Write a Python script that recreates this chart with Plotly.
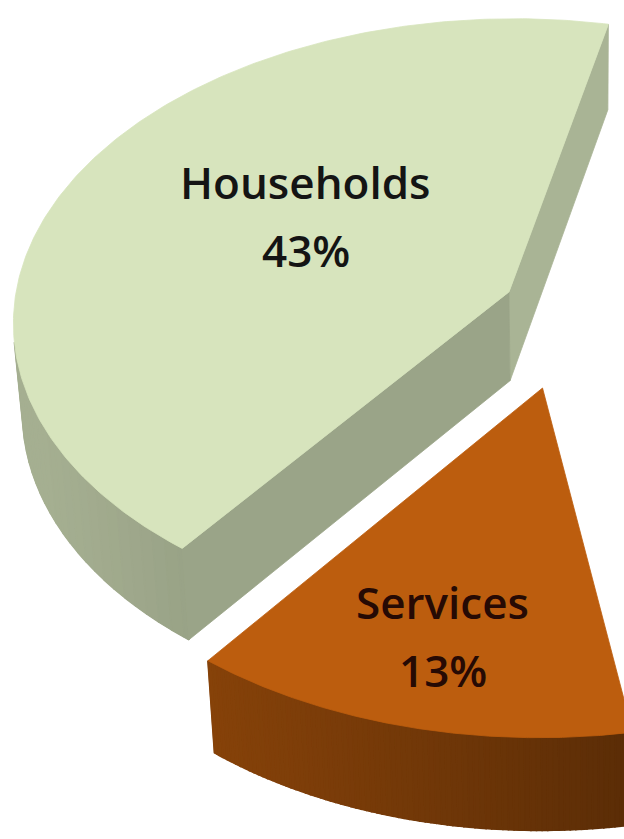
import numpy as np
import plotly.graph_objects as go

# Sector shares of total consumption (percent)
categories = ["Households", "Services"]
shares = [43, 13]
top_colors = ["#d7e4bd", "#bc5d0e"]
text_colors = ["#141414", "#260a04"]

# Per-slice styling
explode = [0.145, 0.26]          # radial pull-out, in pie radii
label_radius = [0.5, 0.75]       # label anchor along the slice
label_turn = [-7.0, 0.0]         # angular nudge of the label anchor (deg)

# Page and camera
W, H = 624, 839
CX, CY = 574.0, 310.0
FOCAL = 4233.0
DIST = 8.54
TILT = np.radians(37.5)
THICK = 0.23
START = 78.0                     # angle of the first slice edge (deg, CCW)
S, C = np.sin(TILT), np.cos(TILT)
CAM = np.array([0.0, -DIST * C, DIST * S])


def project(X, Y, Z):
    X, Y, Z = np.asarray(X, float), np.asarray(Y, float), np.asarray(Z, float)
    yc = Y * S + Z * C
    d = DIST + Y * C - Z * S
    return CX + FOCAL * X / d, CY - FOCAL * yc / d


def hexrgb(h):
    h = h.lstrip("#")
    return np.array([int(h[i:i + 2], 16) for i in (0, 2, 4)], float)


def shade(h, k):
    r, g, b = np.clip(hexrgb(h) * k, 0, 255).astype(int)
    return f"rgb({r},{g},{b})"


def wall_light(theta_deg):
    return 0.42 + 0.35 * np.cos(np.radians(theta_deg - 200.0))


def facing(point, normal):
    return float(np.dot(CAM - point, normal)) > 0


def poly(fig, pts3d, color, lw=0.8):
    pts = np.asarray(pts3d)
    x, y = project(pts[:, 0], pts[:, 1], pts[:, 2])
    fig.add_trace(go.Scatter(
        x=np.append(x, x[0]), y=np.append(y, y[0]), mode="lines",
        fill="toself", fillcolor=color, line=dict(color=color, width=lw),
        hoverinfo="skip", showlegend=False))


fig = go.Figure()

# slice angle ranges from the shares
edges = START + 3.6 * np.concatenate([[0], np.cumsum(shares)])
slices = []
for i, cat in enumerate(categories):
    a0, a1 = edges[i], edges[i + 1]
    mid = np.radians((a0 + a1) / 2)
    off = explode[i] * np.array([np.cos(mid), np.sin(mid), 0.0])
    slices.append((i, a0, a1, off))

# far slices first
slices.sort(key=lambda s: -(s[3][1] + np.sin(np.radians((s[1] + s[2]) / 2))))

labels = []
for i, a0, a1, off in slices:
    base = top_colors[i]
    th = np.radians(np.linspace(a0, a1, 241))
    ring = np.stack([np.cos(th), np.sin(th), np.zeros_like(th)], 1) + off
    down = np.array([0, 0, -THICK])
    ctr = off.copy()

    # outer curved wall: visible part as one backing piece, then shaded bands
    vis = []
    for k in range(len(th) - 1):
        tm = (th[k] + th[k + 1]) / 2
        n = np.array([np.cos(tm), np.sin(tm), 0])
        if facing((ring[k] + ring[k + 1]) / 2, n):
            vis.append(k)
    if vis:
        k0, k1 = vis[0], vis[-1] + 1
        seg = ring[k0:k1 + 1]
        tmid = np.degrees((th[k0] + th[k1]) / 2)
        poly(fig, np.vstack([seg, (seg + down)[::-1]]),
             shade(base, wall_light(tmid)))
        step = 3
        for k in range(k0, k1, step):
            ke = min(k + step, k1)
            band = ring[k:ke + 1]
            tm = np.degrees((th[k] + th[ke]) / 2)
            poly(fig, np.vstack([band, (band + down)[::-1]]),
                 shade(base, wall_light(tm)), lw=1.6)

    # radial cut faces
    r0, r1 = np.radians(a0), np.radians(a1)
    n0 = np.array([np.sin(r0), -np.cos(r0), 0])
    n1 = np.array([-np.sin(r1), np.cos(r1), 0])
    for n, rp, k in ((n0, ring[0], 0.79), (n1, ring[-1], 0.72)):
        p = (ctr + rp) / 2
        if facing(p, n):
            poly(fig, [ctr, rp, rp + down, ctr + down], shade(base, k))

    poly(fig, np.vstack([ctr, ring]), base)

    la = np.radians((a0 + a1) / 2 + label_turn[i])
    lp = off + label_radius[i] * np.array([np.cos(la), np.sin(la), 0])
    lx, ly = project(lp[0], lp[1], lp[2])
    labels.append((i, float(lx), float(ly)))

for i, lx, ly in labels:
    font = dict(family="Open Sans, Lato, sans-serif", size=44,
                color=text_colors[i], weight=600)
    fig.add_annotation(x=lx, y=ly, text=categories[i], showarrow=False,
                       yshift=34, font=font, xanchor="center", yanchor="middle")
    fig.add_annotation(x=lx, y=ly, text=f"{shares[i]}%", showarrow=False,
                       yshift=-34, font=font, xanchor="center", yanchor="middle")

fig.update_layout(
    width=W, height=H, autosize=False,
    margin=dict(l=0, r=0, t=0, b=0),
    paper_bgcolor="white", plot_bgcolor="white",
    xaxis=dict(range=[0, W], visible=False, fixedrange=True),
    yaxis=dict(range=[H, 0], visible=False, fixedrange=True),
)

fig.write_html("out.html")
